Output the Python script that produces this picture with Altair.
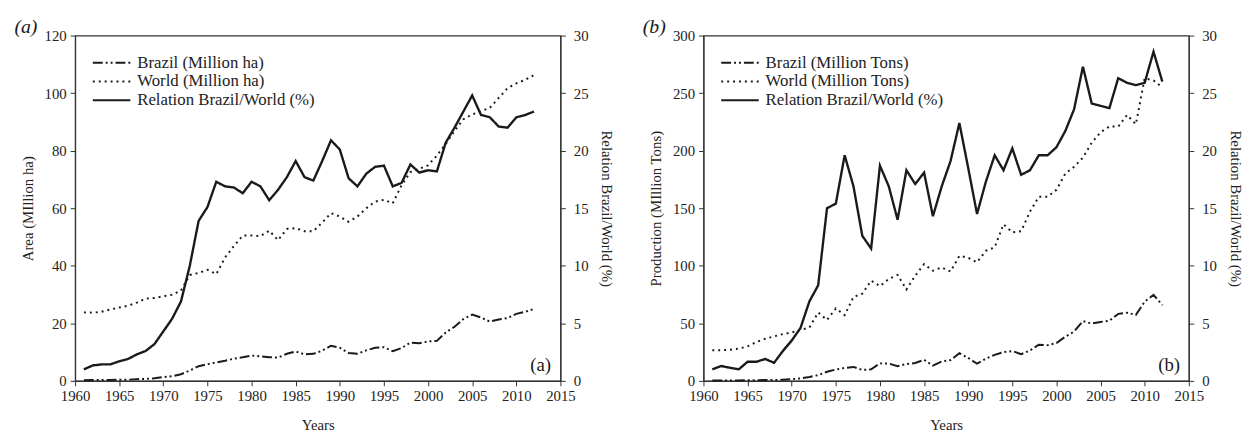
import altair as alt
import pandas as pd

years = list(range(1961, 2013))

# Panel (a): harvested area
area_brazil = [0.2, 0.3, 0.3, 0.3, 0.4, 0.4, 0.6, 0.7, 0.9, 1.3,
               1.6, 2.3, 3.6, 5.1, 5.8, 6.4, 7.0, 7.7, 8.2, 8.8,
               8.5, 8.2, 8.1, 9.4, 10.2, 9.2, 9.4, 10.5, 12.2, 11.5,
               9.7, 9.4, 10.6, 11.5, 11.7, 10.3, 11.4, 13.3, 13.1, 13.7,
               13.9, 16.8, 18.8, 21.5, 23.0, 22.0, 20.6, 21.3, 21.8, 23.3,
               24.0, 25.0]
area_world = [23.8, 23.7, 24.0, 24.8, 25.5, 26.1, 27.2, 28.6, 28.8, 29.4,
              29.9, 31.4, 36.8, 37.5, 38.6, 37.1, 42.9, 46.9, 50.5, 50.5,
              50.3, 52.2, 48.9, 52.8, 53.1, 52.0, 52.0, 55.0, 58.3, 57.1,
              55.3, 57.1, 60.0, 62.3, 62.9, 61.7, 68.0, 72.6, 73.7, 74.9,
              78.3, 82.3, 86.9, 90.9, 92.6, 93.7, 94.9, 98.3, 101.7, 103.4,
              104.6, 106.3]
area_relation = [1.0, 1.34, 1.43, 1.43, 1.7, 1.9, 2.3, 2.6, 3.2, 4.3,
                 5.4, 6.9, 10.0, 13.9, 15.1, 17.3, 16.9, 16.8, 16.3, 17.3,
                 16.9, 15.7, 16.6, 17.7, 19.1, 17.7, 17.4, 19.1, 20.9, 20.1,
                 17.6, 16.9, 18.0, 18.6, 18.7, 16.9, 17.2, 18.8, 18.1, 18.3,
                 18.2, 20.7, 22.0, 23.4, 24.8, 23.1, 22.9, 22.1, 22.0, 22.9,
                 23.1, 23.4]

# Panel (b): production
prod_brazil = [0.3, 0.3, 0.3, 0.3, 0.5, 0.6, 0.7, 0.7, 1.0, 1.5,
               2.1, 3.4, 5.0, 7.9, 9.9, 11.2, 12.1, 9.5, 10.0, 15.2,
               15.0, 12.8, 14.6, 15.5, 18.3, 13.3, 16.9, 18.0, 24.1, 19.9,
               14.9, 19.2, 22.6, 24.9, 25.9, 23.2, 26.4, 31.4, 31.0, 32.8,
               38.4, 42.8, 51.9, 49.8, 51.2, 52.3, 58.2, 59.2, 57.3, 68.8,
               74.8, 65.8]
prod_world = [26.6, 26.6, 27.1, 28.0, 30.0, 33.7, 36.6, 38.6, 40.6, 42.0,
              44.3, 46.3, 59.4, 52.9, 62.9, 57.1, 72.9, 75.7, 87.1, 82.3,
              88.6, 92.0, 79.4, 91.4, 101.4, 95.7, 98.6, 95.0, 108.6, 107.0,
              103.0, 113.0, 116.0, 136.0, 129.0, 130.0, 147.0, 160.0, 160.0, 166.0,
              180.0, 186.0, 194.0, 207.0, 216.0, 221.0, 221.0, 231.0, 223.0, 263.0,
              261.0, 255.0]
prod_relation = [1.0, 1.29, 1.14, 1.0, 1.66, 1.66, 1.9, 1.57, 2.6, 3.5,
                 4.6, 6.9, 8.3, 15.0, 15.4, 19.6, 16.9, 12.6, 11.5, 18.7,
                 16.9, 14.0, 18.3, 17.1, 18.1, 14.3, 16.9, 19.1, 22.4, 18.5,
                 14.5, 17.3, 19.6, 18.3, 20.2, 17.9, 18.3, 19.6, 19.6, 20.3,
                 21.7, 23.6, 27.3, 24.1, 23.9, 23.7, 26.3, 25.9, 25.7, 25.9,
                 28.6, 26.0]

x_ticks = list(range(1960, 2016, 5))
FONT = "Liberation Serif"
INK = "#1a1a1a"


def panel(brazil, world, rel, unit, left_title, left_max, left_step, tag, inner):
    names = [f"Brazil ({unit})", f"World ({unit})", "Relation Brazil/World (%)"]
    df_lr = pd.DataFrame({
        "year": years * 2,
        "value": brazil + world,
        "series": [names[0]] * len(years) + [names[1]] * len(years),
    })
    df_r = pd.DataFrame({"year": years, "rel": rel, "series": [names[2]] * len(years)})

    dash = alt.Scale(domain=names, range=[[10, 3, 2, 3, 2, 3], [2, 4], [1, 0]])
    legend = alt.Legend(title=None, orient="none", legendX=17, legendY=17,
                        symbolType="M-1,0H3", symbolSize=361, symbolStrokeWidth=2,
                        symbolStrokeColor=INK, symbolFillColor="transparent",
                        labelFont=FONT, labelFontSize=17,
                        labelColor="#222", labelOffset=25, rowPadding=0,
                        labelLimit=400)

    x = alt.X("year:Q", scale=alt.Scale(domain=[1960, 2015], nice=False, zero=False),
              axis=alt.Axis(values=x_ticks, format="d", title="Years", tickSize=5,
                            labelPadding=3, titlePadding=14, labelFlush=False))

    left = alt.Chart(df_lr).mark_line(color=INK, strokeWidth=2).encode(
        x=x,
        y=alt.Y("value:Q", scale=alt.Scale(domain=[0, left_max], nice=False),
                axis=alt.Axis(values=list(range(0, left_max + 1, left_step)),
                              title=left_title, orient="left", tickSize=5,
                              labelPadding=4, titlePadding=9)),
        strokeDash=alt.StrokeDash("series:N", scale=dash, legend=legend),
        detail="series:N",
    )
    right = alt.Chart(df_r).mark_line(color=INK, strokeWidth=2.4).encode(
        x=x,
        y=alt.Y("rel:Q", scale=alt.Scale(domain=[0, 30], nice=False),
                axis=alt.Axis(values=list(range(0, 31, 5)),
                              title="Relation Brazil/World (%)", orient="right",
                              tickSize=5, labelPadding=8, titlePadding=11)),
        strokeDash=alt.StrokeDash("series:N", scale=dash, legend=legend),
    )
    label = alt.Chart(pd.DataFrame({"t": [inner]})).mark_text(
        font=FONT, fontSize=19, color=INK, align="center", baseline="middle"
    ).encode(text="t:N", x=alt.value(472), y=alt.value(334))

    return alt.layer(left, right, label).resolve_scale(y="independent").properties(
        width=492, height=350,
        title=alt.Title(tag, anchor="start", frame="bounds", font=FONT,
                        fontSize=20, fontStyle="italic", fontWeight="normal",
                        color=INK, offset=-8, dx=-6),
    )


pa = panel(area_brazil, area_world, area_relation, "Million ha",
           "Area (MIllion ha)", 120, 20, "(a)", "(a)")
pb = panel(prod_brazil, prod_world, prod_relation, "Million Tons",
           "Production (MIllion Tons)", 300, 50, "(b)", "(b)")

chart = alt.hconcat(pa, pb, spacing=27).resolve_scale(
    strokeDash="independent").resolve_legend(strokeDash="independent").configure(
    font=FONT, background="white"
).configure_axis(
    grid=False, domainColor="#333", tickColor="#333", domainWidth=1.2,
    labelFont=FONT, titleFont=FONT, labelFontSize=15, titleFontSize=15,
    labelColor="#222", titleColor="#222", titleFontWeight="normal"
).configure_view(stroke="#333", strokeWidth=1.2)

chart.save("out.html", embed_options={"renderer": "svg", "actions": False})
